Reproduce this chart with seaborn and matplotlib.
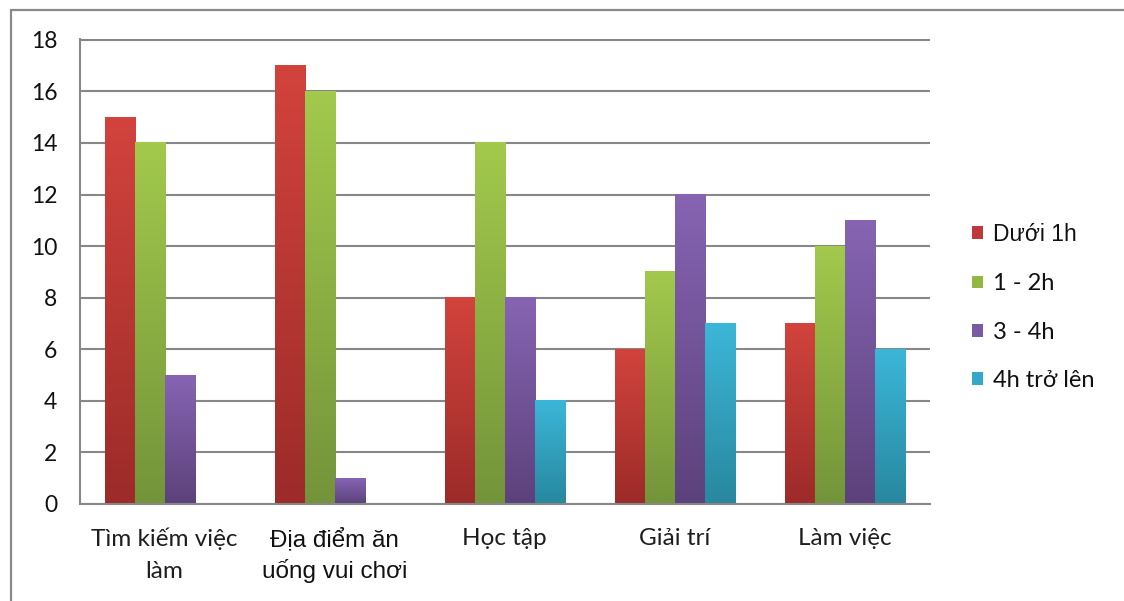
import numpy as np
import pandas as pd
import matplotlib
matplotlib.use("Agg")
import matplotlib.pyplot as plt
import seaborn as sns
from matplotlib.patches import Patch
from matplotlib.lines import Line2D
from matplotlib.colors import to_rgb

categories = ["Tìm kiếm việc\nlàm", "Địa điểm ăn\nuống vui chơi", "Học tập", "Giải trí", "Làm việc"]
series = ["Dưới 1h", "1 - 2h", "3 - 4h", "4h trở lên"]
duoi_1h = [15, 17, 8, 6, 7]
h1_2 = [14, 16, 14, 9, 10]
h3_4 = [5, 1, 8, 12, 11]
h4_plus = [0, 0, 4, 7, 6]
yticks = [0, 2, 4, 6, 8, 10, 12, 14, 16, 18]

mid_colors = ["#C0393A", "#92B844", "#7A5AA4", "#34A8C8"]
top_colors = ["#D2433D", "#A2C94C", "#8664B2", "#3CB6D8"]
bot_colors = ["#9C2B29", "#74943A", "#5C427C", "#28889F"]

rows = []
for s, vals in zip(series, [duoi_1h, h1_2, h3_4, h4_plus]):
    for c, v in zip(categories, vals):
        rows.append({"cat": c, "series": s, "value": v})
df = pd.DataFrame(rows)

sns.set_style("white")
plt.rcParams["font.family"] = ["Lato", "DejaVu Sans"]

fig = plt.figure(figsize=(11.24, 6.01), dpi=100)
ax = fig.add_axes([79.5 / 1124, 1 - 504 / 601, (930 - 79.5) / 1124, (504 - 39) / 601])

sns.barplot(data=df, x="cat", y="value", hue="series", order=categories,
            hue_order=series, palette=mid_colors, saturation=1, width=0.706,
            gap=0, linewidth=0, legend=False, ax=ax, errorbar=None)

# vertical gradient fill on each bar
for i, cont in enumerate(ax.containers):
    c_top = np.array(to_rgb(top_colors[i]))
    c_bot = np.array(to_rgb(bot_colors[i]))
    for bar in cont:
        h = bar.get_height()
        if h <= 0:
            continue
        x0 = bar.get_x()
        w = bar.get_width()
        t = np.linspace(0, 1, 64)[:, None]
        grad = (c_top[None, :] * (1 - t) + c_bot[None, :] * t)[:, None, :]
        ax.imshow(grad, extent=[x0, x0 + w, 0, h], aspect="auto",
                  origin="upper", zorder=bar.get_zorder() + 0.1, interpolation="bilinear")
        bar.set_visible(False)

grid_c = "#878787"
ax.set_xlim(-0.5, 4.5)
ax.set_ylim(0, 18.03)
ax.set_yticks(yticks)
ax.set_yticklabels([str(v) for v in yticks])
ax.yaxis.grid(True, color=grid_c, lw=1.5)
ax.xaxis.grid(False)
ax.set_axisbelow(True)
ax.set_xlabel("")
ax.set_ylabel("")
for s in ["top", "right"]:
    ax.spines[s].set_visible(False)
for s in ["left", "bottom"]:
    ax.spines[s].set_visible(True)
    ax.spines[s].set_color(grid_c)
    ax.spines[s].set_linewidth(1.5)

ax.set_xticks(range(len(categories)))
ax.set_xticklabels(categories, linespacing=1.65)
ax.set_xticks(np.arange(-0.5, 5, 1.0), minor=True)
ax.tick_params(axis="x", which="major", length=0, pad=17, labelsize=17.5, colors="#1e1e1e")
ax.tick_params(axis="x", which="minor", length=6, width=1.5, color=grid_c, direction="out")
ax.tick_params(axis="y", length=6, width=1.5, color=grid_c, direction="out", pad=10,
               labelsize=16.5, labelcolor="#111111")
for lab in ax.get_xticklabels():
    lab.set_color("#1e1e1e")
xl = ax.get_xticklabels()[1]
xl.set_fontfamily(["Liberation Sans", "DejaVu Sans"])
xl.set_fontsize(17.5)
xl.set_linespacing(1.42)
xl.set_color("#111111")

handles = [Patch(facecolor=c, edgecolor="none") for c in mid_colors]
leg = fig.legend(handles, series, loc="center left", bbox_to_anchor=(972 / 1124, 1 - 307 / 601),
                 frameon=False, fontsize=17, handlelength=0.45, handleheight=0.45,
                 handletextpad=0.45, labelspacing=1.16, borderpad=0, borderaxespad=0)
for t in leg.get_texts():
    t.set_color("#111111")
t0 = leg.get_texts()[0]
t0.set_fontfamily(["Liberation Sans", "DejaVu Sans"])
t0.set_fontsize(16.5)

# outer chart frame (left and top edges)
fig.add_artist(Line2D([11 / 1124, 11 / 1124], [0, 1 - 10 / 601], transform=fig.transFigure,
                      color="#8a8a8a", lw=1.6))
fig.add_artist(Line2D([11 / 1124, 1], [1 - 10 / 601, 1 - 10 / 601], transform=fig.transFigure,
                      color="#8a8a8a", lw=1.6))

fig.savefig("out.png", dpi=100)
